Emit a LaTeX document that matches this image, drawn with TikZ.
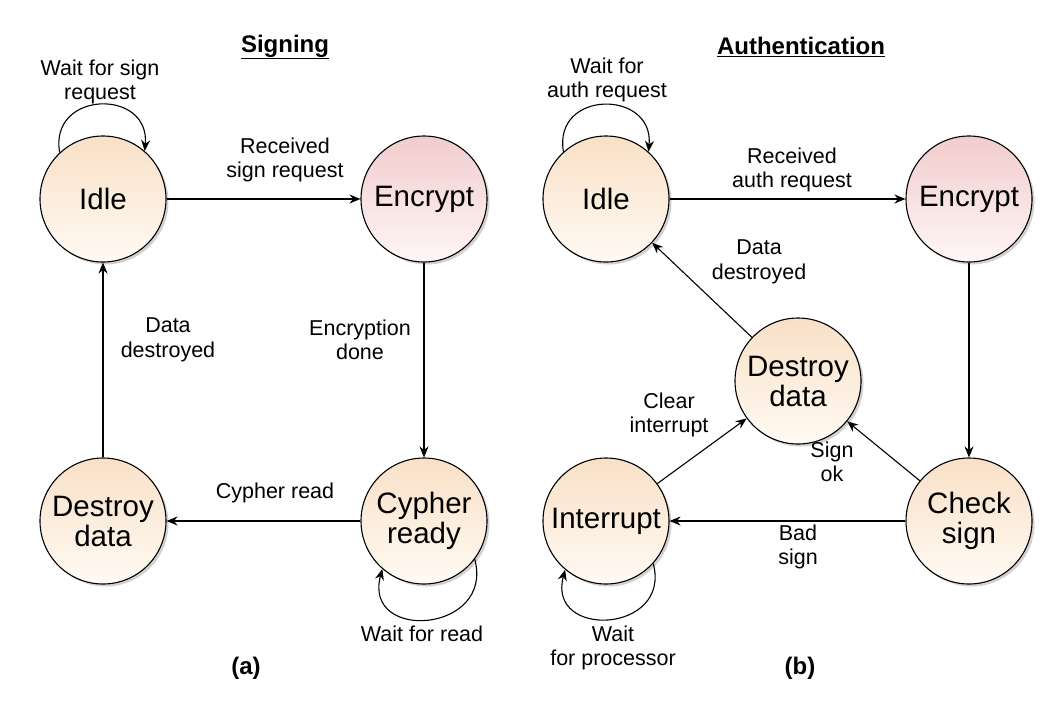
\documentclass[tikz,border=0pt]{standalone}
\usepackage{fontspec}
\setmainfont{Liberation Sans}
\usetikzlibrary{arrows.meta,shadows,positioning}
\definecolor{peach}{RGB}{249,224,198}
\definecolor{peachlo}{RGB}{255,250,244}
\definecolor{rose}{RGB}{241,204,204}
\definecolor{roselo}{RGB}{255,246,246}

\begin{document}
\begin{tikzpicture}[x=1pt,y=1pt,
      st/.style={circle,draw=black,line width=1.1pt,minimum size=126pt,inner sep=0pt,
                 top color=peach,bottom color=peachlo,align=center,
                 font=\fontsize{29.5}{30}\selectfont,
                 drop shadow={shadow xshift=2.5pt,shadow yshift=-2.5pt,fill=black!35,opacity=0.5}},
      stenc/.style={st,top color=rose,bottom color=roselo},
      lbl/.style={align=center,inner sep=0pt,font=\fontsize{21.5}{24.5}\selectfont},
      ttl/.style={inner sep=0pt,font=\fontsize{24}{28}\selectfont\bfseries},
      tr/.style={line width=1.1pt,-{Stealth[length=11pt,width=9pt]}}]
      \useasboundingbox (0,0) rectangle (1062,-702);
      % (a) Signing
      \node[ttl] (ttlA) at (285,-47) {\underline{Signing}};
      \node[st] (idleA) at (103,-199) {Idle};
      \node[stenc] (encA) at (424,-199) {Encrypt};
      \node[st] (cyph) at (424,-521) {Cypher\\ready};
      \node[st] (desA) at (103,-521) {Destroy\\data};
      \draw[tr] (idleA) -- (encA);
      \draw[tr] (encA) -- (cyph);
      \draw[tr] (cyph) -- (desA);
      \draw[tr] (desA) -- (idleA);
      \draw[tr] (idleA.133) to[out=100,in=85,looseness=1.9] (idleA.49);
      \draw[tr] (cyph.-37) to[out=-75,in=-105,looseness=2.1] (cyph.-131);
      \node[lbl] (lA1) at (100,-82) {Wait for sign\\request};
      \node[lbl] (lA2) at (285,-160) {Received\\sign request};
      \node[lbl] (lA3) at (360,-340) {Encryption\\done};
      \node[lbl] (lA4) at (275,-493) {Cypher read};
      \node[lbl] (lA5) at (168,-340) {Data\\destroyed};
      \node[lbl] (lA6) at (422,-634) {Wait for read};
      \node[ttl] (capA) at (246,-668) {(a)};
      % (b) Authentication
      \node[ttl] (ttlB) at (801,-47) {\underline{Authentication}};
      \node[st] (idleB) at (606,-199) {Idle};
      \node[stenc] (encB) at (969,-199) {Encrypt};
      \node[st] (desB) at (798,-381) {Destroy\\data};
      \node[st] (intr) at (606,-521) {Interrupt};
      \node[st] (chk) at (969,-521) {Check\\sign};
      \draw[tr] (idleB) -- (encB);
      \draw[tr] (encB) -- (chk);
      \draw[tr] (chk) -- (desB);
      \draw[tr] (chk) -- (intr);
      \draw[tr] (intr) -- (desB);
      \draw[tr] (desB) -- (idleB);
      \draw[tr] (idleB.132) to[out=100,in=85,looseness=1.9] (idleB.48);
      \draw[tr] (intr.-42) to[out=-75,in=-105,looseness=2.1] (intr.-130);
      \node[lbl] (lB1) at (607,-80) {Wait for\\auth request};
      \node[lbl] (lB2) at (792,-170) {Received\\auth request};
      \node[lbl] (lB3) at (759,-262) {Data\\destroyed};
      \node[lbl] (lB4) at (669,-415) {Clear\\interrupt};
      \node[lbl] (lB5) at (832,-462) {Sign\\ok};
      \node[lbl] (lB6) at (798,-547) {Bad\\sign};
      \node[lbl] (lB7) at (613,-648) {Wait\\for processor};
      \node[ttl] (capB) at (800,-668) {(b)};
    \end{tikzpicture}
\end{document}
